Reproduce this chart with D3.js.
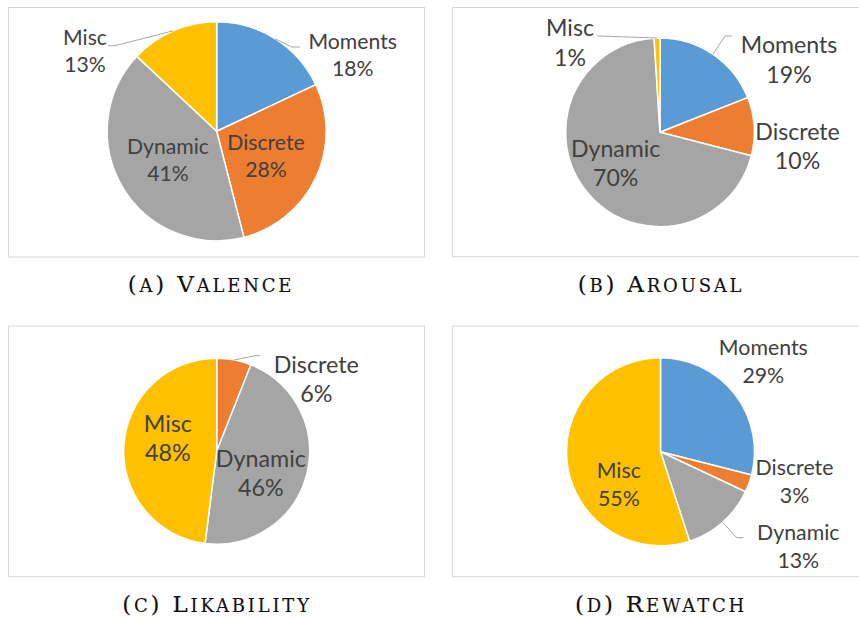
<!DOCTYPE html>
<html>
<head>
<meta charset="utf-8">
<script src="https://cdn.jsdelivr.net/npm/d3@7"></script>
<style>
  html, body { margin: 0; padding: 0; background: #fff; }
  svg { display: block; }
</style>
</head>
<body>
<svg id="chart" width="859" height="619"></svg>
<script>
// ---------------- DATA ----------------
const categories = ["Moments", "Discrete", "Dynamic", "Misc"];
const valenceValues    = [18, 28, 41, 13];
const arousalValues    = [19, 10, 70, 1];
const likabilityValues = [0, 6, 46, 48];
const rewatchValues    = [29, 3, 13, 55];
const captionLetters = ["a", "b", "c", "d"];
const captionTitles  = ["Valence", "Arousal", "Likability", "Rewatch"];

// ---------------- STYLE / LAYOUT ----------------
const colors = ["#5B9BD5", "#ED7D31", "#A5A5A5", "#FFC000"];
const labelColor = "#404040";
const labelFont = "Lato, 'Noto Sans', sans-serif";
const captionFont = "'DejaVu Serif', 'Liberation Serif', serif";

// label offsets relative to the pie centre (px): [dx, dy of first baseline]
// leader: [elbowDx, elbowDy, endDx, endDy] or null
const panels = [
  { values: valenceValues, box: [8.5, 7.5, 416, 249.5], cx: 216.7, cy: 131.3, r: 109.5,
    fs: 21.2, lh: 27, capX: 211, capY: 291.5,
    labels: [ [136, -82.7], [49.3, 19], [-48.7, 23], [-131.7, -86] ],
    leaders: [ [75, -84.3, 83.3, -84.3], null, null, [-101.7, -85.6, -108.4, -85.6] ] },
  { values: arousalValues, box: [452.5, 7.5, 420, 249.2], cx: 660, cy: 132.3, r: 94.3,
    fs: 23.1, lh: 29.5, capX: 661, capY: 291.5,
    labels: [ [129, -79], [137.5, 7.7], [-44.3, 24.7], [-90, -96.3] ],
    leaders: [ [65, -96.3, 71.7, -96.3], null, null, [-60, -96.3, -63.3, -96.3] ] },
  { values: likabilityValues, box: [8.5, 326, 416, 250.7], cx: 216.7, cy: 451.3, r: 93,
    fs: 23.3, lh: 29, capX: 217, capY: 612,
    labels: [ null, [99.6, -78], [44.1, 15.4], [-48.9, -19.6] ],
    leaders: [ null, [38.3, -95.6, 43.3, -95.6], null, null ] },
  { values: rewatchValues, box: [452.5, 326, 420, 250.7], cx: 660.5, cy: 451.7, r: 94,
    fs: 21.3, lh: 27.7, capX: 661, capY: 612,
    labels: [ [102.8, -96.7], [134, 23.3], [137.8, 88.3], [-41.7, 26.6] ],
    leaders: [ null, null, [76.2, 86, 82.8, 86], null ] }
];

const svg = d3.select("#chart");

const pie = d3.pie().sort(null).value(d => d.value);

panels.forEach((p, pi) => {
  const g = svg.append("g");
  // frame
  g.append("rect")
    .attr("x", p.box[0]).attr("y", p.box[1])
    .attr("width", p.box[2]).attr("height", p.box[3])
    .attr("fill", "#fff").attr("stroke", "#d9d9d9").attr("stroke-width", 1);

  const data = categories.map((c, i) => ({ cat: c, value: p.values[i], idx: i }));
  const arcs = pie(data);
  const arc = d3.arc().innerRadius(0).outerRadius(p.r);

  const pg = g.append("g").attr("transform", `translate(${p.cx},${p.cy})`);
  pg.selectAll("path.slice")
    .data(arcs.filter(a => a.data.value > 0))
    .join("path")
    .attr("class", "slice")
    .attr("d", arc)
    .attr("fill", d => colors[d.data.idx])
    .attr("stroke", "#fff")
    .attr("stroke-width", 1.5)
    .attr("stroke-linejoin", "round");

  // leader lines
  arcs.forEach(a => {
    const ld = p.leaders[a.data.idx];
    if (!ld || a.data.value <= 0) return;
    const mid = (a.startAngle + a.endAngle) / 2;
    const sx = p.r * Math.sin(mid), sy = -p.r * Math.cos(mid);
    pg.append("polyline")
      .attr("points", `${sx},${sy} ${ld[0]},${ld[1]} ${ld[2]},${ld[3]}`)
      .attr("fill", "none")
      .attr("stroke", "#a6a6a6")
      .attr("stroke-width", 1);
  });

  // labels
  arcs.forEach(a => {
    const lb = p.labels[a.data.idx];
    if (!lb || a.data.value <= 0) return;
    const t = pg.append("text")
      .attr("x", lb[0]).attr("y", lb[1])
      .attr("text-anchor", "middle")
      .attr("font-family", labelFont)
      .attr("font-size", p.fs)
      .attr("fill", labelColor);
    t.append("tspan").attr("x", lb[0]).attr("y", lb[1]).text(a.data.cat);
    t.append("tspan").attr("x", lb[0]).attr("y", lb[1] + p.lh)
      .text(d3.format(".0f")(a.data.value) + "%");
  });

  // caption, small caps: "(a) Title"
  const big = 23, small = 18;
  const cap = svg.append("text")
    .attr("x", p.capX).attr("y", p.capY)
    .attr("text-anchor", "middle")
    .attr("font-family", captionFont)
    .attr("letter-spacing", 2.8)
    .attr("fill", "#111")
    .attr("stroke", "#111")
    .attr("stroke-width", 0.15);
  cap.append("tspan").attr("font-size", big).text("(");
  cap.append("tspan").attr("font-size", small).text(captionLetters[pi].toUpperCase());
  cap.append("tspan").attr("font-size", big).text(") ");
  const title = captionTitles[pi];
  cap.append("tspan").attr("font-size", big).text(title[0]);
  cap.append("tspan").attr("font-size", small).text(title.slice(1).toUpperCase());
});
</script>
</body>
</html>
